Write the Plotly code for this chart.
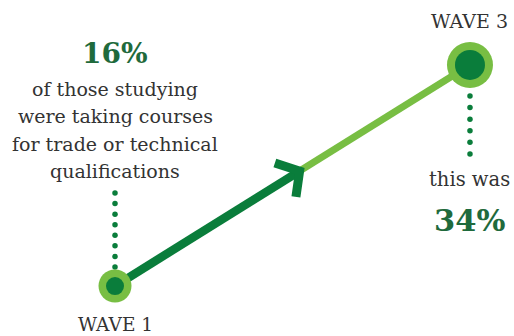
import numpy as np
import plotly.graph_objects as go

# Share of those studying who took trade/technical courses, by survey wave
waves = [1, 3]
wave_labels = ["WAVE 1", "WAVE 3"]
shares = [16, 34]

W, H = 514, 336
DARK = "#0A7D3B"
LIGHT = "#78BE43"
TEXT_GREEN = "#1F6A3C"
TEXT_GREY = "#333333"
SERIF = "DejaVu Serif"

# axis ranges chosen so the two wave points sit comfortably in the frame
x_range = [0.352, 3.248]
y_range = [11.93, 39.29]
px_x = W / (x_range[1] - x_range[0])
px_y = H / (y_range[1] - y_range[0])


def offset(x, y, dx_px, dy_px):
    """Shift a data point by a screen offset (pixels, y downwards)."""
    return x + dx_px / px_x, y - dy_px / px_y


fig = go.Figure()

# split point where the dark segment ends in an arrowhead
frac = 0.52
mx = waves[0] + frac * (waves[1] - waves[0])
my = shares[0] + frac * (shares[1] - shares[0])

fig.add_trace(go.Scatter(x=[mx, waves[1]], y=[my, shares[1]], mode="lines",
                         line=dict(color=LIGHT, width=7), hoverinfo="skip"))
fig.add_trace(go.Scatter(x=[waves[0], mx], y=[shares[0], my], mode="lines",
                         line=dict(color=DARK, width=8.5), hoverinfo="skip"))

# chevron arrowhead at the split point
ang = np.arctan2(-(shares[1] - shares[0]) * px_y, (waves[1] - waves[0]) * px_x)
back = ang + np.pi
arm = 26
spread = np.radians(50)
pts = []
for a in (back + spread, None, back - spread):
    if a is None:
        pts.append((mx, my))
    else:
        pts.append(offset(mx, my, arm * np.cos(a), arm * np.sin(a)))
fig.add_trace(go.Scatter(x=[p[0] for p in pts], y=[p[1] for p in pts], mode="lines",
                         line=dict(color=DARK, width=9), hoverinfo="skip"))

# dotted leader lines from each point towards its caption
def leader(x, y, start_px, end_px, n):
    ys = [offset(x, y, 0, d)[1] for d in np.linspace(start_px, end_px, n)]
    return go.Scatter(x=[x] * n, y=ys, mode="markers",
                      marker=dict(color=DARK, size=5.5, opacity=1, line=dict(width=0)),
                      hoverinfo="skip")

fig.add_trace(leader(waves[0], shares[0], -19, -93, 8))
fig.add_trace(leader(waves[1], shares[1], 31, 89, 6))

# wave markers: light ring with dark core
fig.add_trace(go.Scatter(x=waves, y=shares, mode="markers",
                         marker=dict(color=LIGHT, size=[33, 46], opacity=1, line=dict(width=0)),
                         hoverinfo="skip"))
fig.add_trace(go.Scatter(x=waves, y=shares, mode="markers",
                         marker=dict(color=DARK, size=[18, 30], opacity=1, line=dict(width=0)),
                         hoverinfo="skip"))

ann = []
# wave labels
ann.append(dict(x=waves[0], y=shares[0], text=wave_labels[0], yshift=-38.5,
                font=dict(size=18.5, color=TEXT_GREY, family=SERIF)))
ann.append(dict(x=waves[1], y=shares[1], text=wave_labels[1], yshift=44,
                font=dict(size=19, color=TEXT_GREY, family=SERIF)))

# wave 1 caption above its point
ann.append(dict(x=waves[0], y=shares[0], text=f"<b>{shares[0]}%</b>", yshift=233,
                font=dict(size=28, color=TEXT_GREEN, family=SERIF)))
cap = ["of those studying", "were taking courses",
       "for trade or technical", "qualifications"]
for i, line in enumerate(cap):
    ann.append(dict(x=waves[0], y=shares[0], text=line, yshift=197.5 - i * 27.5,
                    font=dict(size=19, color=TEXT_GREY, family=SERIF)))

# wave 3 caption below its point
ann.append(dict(x=waves[1], y=shares[1], text="this was", yshift=-115,
                font=dict(size=19.5, color=TEXT_GREY, family=SERIF)))
ann.append(dict(x=waves[1], y=shares[1], text=f"<b>{shares[1]}%</b>", yshift=-155,
                font=dict(size=30.5, color=TEXT_GREEN, family=SERIF)))

for a in ann:
    a.update(xref="x", yref="y", showarrow=False, xanchor="center", yanchor="middle")

fig.update_layout(
    width=W, height=H,
    margin=dict(l=0, r=0, t=0, b=0),
    paper_bgcolor="white", plot_bgcolor="white",
    showlegend=False,
    annotations=ann,
    xaxis=dict(range=x_range, visible=False, fixedrange=True),
    yaxis=dict(range=y_range, visible=False, fixedrange=True),
)

fig.write_html("out.html")
